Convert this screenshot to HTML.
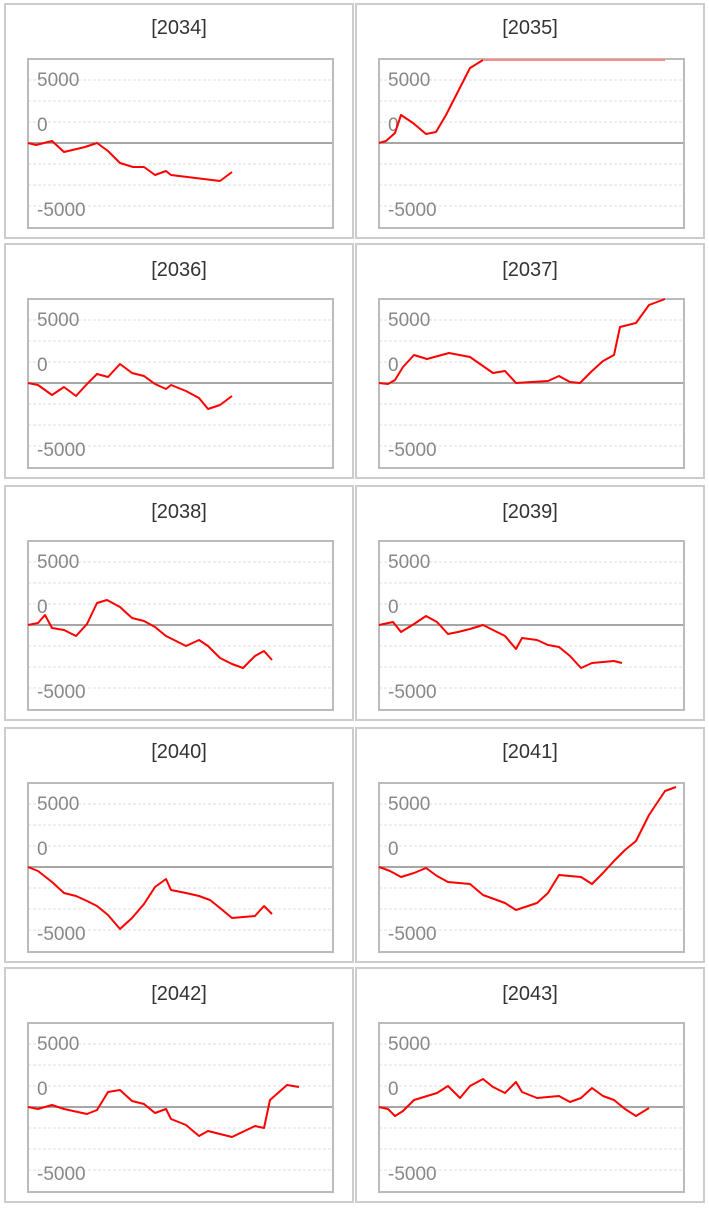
<!DOCTYPE html>
<html><head><style>body{margin:0;background:#fff}svg{display:block}</style></head><body>
<svg width="709" height="1209" xmlns="http://www.w3.org/2000/svg" font-family="Liberation Sans, sans-serif">
<defs>
<g id="panel">
<rect x="0" y="0" width="348" height="234" fill="#fff" stroke="#ccc" stroke-width="2"/>
<g stroke="#ddd" stroke-dasharray="3,2" stroke-width="1">
<line x1="23" x2="328" y1="76" y2="76"/><line x1="23" x2="328" y1="97" y2="97"/><line x1="23" x2="328" y1="118" y2="118"/>
<line x1="23" x2="328" y1="160" y2="160"/><line x1="23" x2="328" y1="181" y2="181"/><line x1="23" x2="328" y1="202" y2="202"/>
</g>
<line x1="23" x2="328" y1="139" y2="139" stroke="#888" stroke-width="1.5"/>
<rect x="23" y="55" width="305" height="169" fill="none" stroke="#bbb" stroke-width="2"/>
<g fill="#888" font-size="19"><text x="32" y="82">5000</text><text x="32" y="127">0</text><text x="32" y="212">-5000</text></g>
</g>
</defs>
<use href="#panel" x="5" y="4"/><use href="#panel" x="356" y="4"/>
<use href="#panel" x="5" y="244"/><use href="#panel" x="356" y="244"/>
<use href="#panel" x="5" y="486"/><use href="#panel" x="356" y="486"/>
<use href="#panel" x="5" y="728"/><use href="#panel" x="356" y="728"/>
<use href="#panel" x="5" y="968"/><use href="#panel" x="356" y="968"/>
<g font-size="20" fill="#333" text-anchor="middle">
<text x="179" y="34">[2034]</text><text x="530" y="34">[2035]</text>
<text x="179" y="276">[2036]</text><text x="530" y="276">[2037]</text>
<text x="179" y="518">[2038]</text><text x="530" y="518">[2039]</text>
<text x="179" y="758">[2040]</text><text x="530" y="758">[2041]</text>
<text x="179" y="1000">[2042]</text><text x="530" y="1000">[2043]</text>
</g>
<g fill="none" stroke="#f00" stroke-width="2" stroke-linejoin="round">
<polyline points="28,143 36,145 52,141 64,152 85,147 97,143 108,151 120,163 133,167 144,167 155,175 166,171 171,175 220,181 232,172"/>
<polyline points="379,143 386,141 395,133 401,115 413,123 426,134 436,132 446,115 470,68 483,60"/>
<polyline points="483,60 665,60" stroke="#f88"/>
<polyline points="28,383 38,385 52,395 64,387 76,396 87,384 97,374 108,377 120,364 132,373 144,376 155,384 166,389 171,385 186,391 199,398 208,409 220,405 232,396"/>
<polyline points="379,383 388,384 395,380 403,367 414,355 427,359 449,353 470,357 493,373 505,371 516,383 548,381 559,376 570,382 580,383 592,371 603,361 614,355 620,327 636,323 649,305 665,299"/>
<polyline points="28,625 38,623 45,615 52,628 64,630 76,636 87,624 97,603 107,600 120,607 132,618 144,621 155,627 166,636 186,646 199,640 208,646 220,658 232,664 243,668 255,656 264,651 272,660"/>
<polyline points="379,625 393,622 401,632 414,624 426,616 437,622 448,634 458,632 470,629 483,625 493,630 505,636 516,649 522,638 537,640 548,645 559,647 570,656 581,668 592,663 614,661 622,663"/>
<polyline points="28,867 38,871 52,882 64,893 76,896 87,901 97,906 108,915 120,929 132,918 144,904 155,887 166,879 171,890 186,893 199,896 210,900 220,908 232,918 255,916 264,906 272,914"/>
<polyline points="379,867 390,871 401,877 414,873 426,868 437,876 448,882 470,884 483,895 505,903 516,910 537,903 548,893 559,875 581,877 592,884 603,873 614,861 625,850 636,841 649,815 665,791 676,787"/>
<polyline points="28,1107 38,1109 52,1105 64,1109 87,1114 97,1110 108,1092 120,1090 132,1101 144,1104 155,1113 166,1109 171,1119 186,1125 199,1136 208,1131 232,1137 255,1126 264,1128 270,1100 287,1085 299,1087"/>
<polyline points="379,1107 388,1109 395,1116 403,1111 414,1100 437,1093 448,1086 460,1098 470,1086 483,1079 493,1087 505,1093 516,1082 522,1092 537,1098 559,1096 570,1102 581,1098 592,1088 603,1096 614,1100 625,1109 636,1116 649,1108"/>
</g>
</svg>
</body></html>
